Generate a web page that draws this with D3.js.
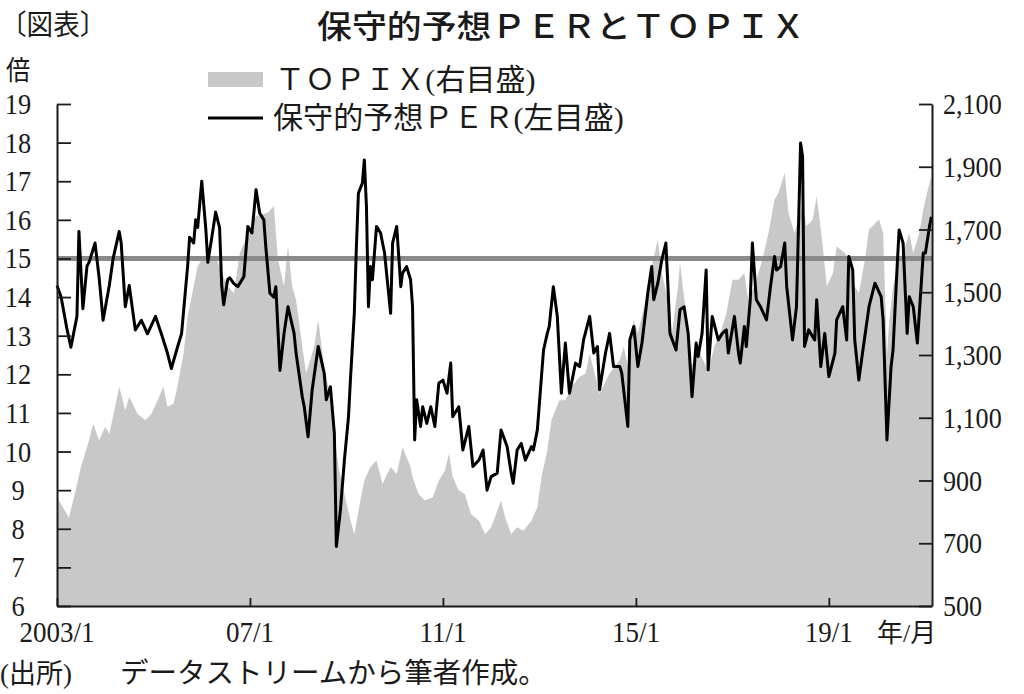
<!DOCTYPE html>
<html><head><meta charset="utf-8">
<script src="https://cdn.jsdelivr.net/npm/d3@7"></script>
<style>body{margin:0;background:#fff}svg{display:block}</style>
</head><body>
<svg id="chart" width="1024" height="694"></svg>
<script>
// ---- data ----
const perSeries = [["2003-01-01",14.3],["2003-02-01",14.0],["2003-03-16",13.2],["2003-04-16",12.7],["2003-06-01",13.5],["2003-06-16",15.7],["2003-07-16",13.7],["2003-08-16",14.8],["2003-09-01",14.9],["2003-10-16",15.4],["2003-11-16",14.5],["2003-12-16",13.4],["2004-02-01",14.3],["2004-03-01",15.0],["2004-04-16",15.7],["2004-05-01",15.4],["2004-06-01",13.75],["2004-07-01",14.3],["2004-08-16",13.15],["2004-10-01",13.4],["2004-11-16",13.05],["2005-01-16",13.5],["2005-03-01",13.05],["2005-04-16",12.55],["2005-05-16",12.15],["2005-07-01",12.7],["2005-08-01",13.05],["2005-09-16",14.8],["2005-10-01",15.55],["2005-11-01",15.4],["2005-11-16",16.0],["2005-12-01",15.8],["2006-01-01",17.0],["2006-02-01",15.75],["2006-02-16",14.9],["2006-03-16",15.5],["2006-04-16",16.2],["2006-05-16",15.8],["2006-06-01",14.3],["2006-06-16",13.8],["2006-07-16",14.45],["2006-08-01",14.5],["2006-09-01",14.35],["2006-10-01",14.27],["2006-11-16",14.53],["2006-12-16",15.83],["2007-01-16",15.66],["2007-02-16",16.78],["2007-03-16",16.17],["2007-04-16",16.0],["2007-05-01",15.3],["2007-06-01",14.1],["2007-07-01",14.0],["2007-07-16",14.27],["2007-08-16",12.1],["2007-09-16",13.06],["2007-10-16",13.75],["2007-12-01",13.06],["2007-12-16",12.55],["2008-02-01",11.42],["2008-02-16",11.16],["2008-03-16",10.38],["2008-04-16",11.6],["2008-06-01",12.72],["2008-07-16",12.03],["2008-08-01",11.34],["2008-09-01",11.68],["2008-10-01",10.47],["2008-10-16",7.54],["2008-11-16",8.49],["2008-12-16",9.78],["2009-01-16",10.9],["2009-02-01",11.94],["2009-03-01",13.58],["2009-03-16",15.22],["2009-04-01",16.69],["2009-05-01",16.95],["2009-05-16",17.55],["2009-06-01",16.34],["2009-06-16",13.75],["2009-07-01",14.79],["2009-07-16",14.45],["2009-08-16",15.83],["2009-09-16",15.66],["2009-10-16",15.14],["2009-12-01",13.58],["2009-12-16",15.4],["2010-01-16",15.83],["2010-02-16",14.27],["2010-03-01",14.62],["2010-04-01",14.79],["2010-05-01",14.45],["2010-05-16",13.75],["2010-06-01",10.3],["2010-06-16",11.34],["2010-07-16",10.65],["2010-08-01",11.16],["2010-09-01",10.73],["2010-10-01",11.16],["2010-11-01",10.65],["2010-12-01",11.77],["2011-01-01",11.85],["2011-02-01",11.51],["2011-03-01",12.29],["2011-03-16",10.9],["2011-05-01",11.16],["2011-06-01",10.04],["2011-07-16",10.65],["2011-08-16",9.61],["2011-10-01",9.78],["2011-11-01",10.04],["2011-12-01",9.0],["2012-01-01",9.35],["2012-02-16",9.44],["2012-03-16",10.56],["2012-05-01",10.13],["2012-06-01",9.44],["2012-06-16",9.18],["2012-07-16",10.04],["2012-08-16",10.21],["2012-09-16",9.78],["2012-11-01",10.13],["2012-11-16",10.04],["2012-12-16",10.56],["2013-01-16",11.94],["2013-02-01",12.63],["2013-03-01",13.06],["2013-03-16",13.24],["2013-04-16",14.27],["2013-05-16",13.5],["2013-06-16",11.51],["2013-07-16",12.81],["2013-08-16",11.51],["2013-10-01",12.29],["2013-11-01",12.2],["2013-12-01",12.89],["2014-01-16",13.5],["2014-02-16",12.55],["2014-03-16",12.72],["2014-04-01",11.6],["2014-05-16",12.55],["2014-06-16",13.06],["2014-07-16",12.2],["2014-09-01",12.2],["2014-09-16",12.03],["2014-11-01",10.65],["2014-11-16",12.89],["2014-12-16",13.24],["2015-01-16",12.2],["2015-02-16",12.81],["2015-04-01",14.1],["2015-05-01",14.79],["2015-05-16",13.93],["2015-06-16",14.36],["2015-07-16",14.96],["2015-08-16",15.4],["2015-09-01",14.27],["2015-09-16",13.06],["2015-11-01",12.63],["2015-12-01",13.67],["2016-01-01",13.75],["2016-02-01",13.06],["2016-03-01",11.42],["2016-04-01",12.81],["2016-04-16",12.46],["2016-05-16",13.06],["2016-06-16",14.7],["2016-07-01",12.11],["2016-08-01",13.5],["2016-09-16",12.89],["2016-10-16",13.06],["2016-11-16",13.15],["2016-12-01",12.55],["2017-01-16",13.5],["2017-02-16",12.55],["2017-03-01",12.29],["2017-04-01",13.24],["2017-04-16",12.72],["2017-05-16",13.93],["2017-06-01",15.4],["2017-07-01",13.93],["2017-08-01",13.75],["2017-09-16",13.41],["2017-10-16",14.27],["2017-11-16",15.05],["2017-12-01",14.7],["2018-01-01",14.79],["2018-02-01",15.4],["2018-02-16",14.27],["2018-04-01",12.89],["2018-05-01",13.75],["2018-06-01",17.99],["2018-06-16",17.64],["2018-07-01",12.72],["2018-08-01",13.15],["2018-09-16",12.89],["2018-10-01",13.93],["2018-11-01",12.2],["2018-12-01",13.06],["2019-01-01",11.94],["2019-02-16",12.55],["2019-03-01",13.41],["2019-04-16",13.75],["2019-05-16",12.89],["2019-06-01",15.05],["2019-07-01",14.7],["2019-07-16",12.89],["2019-08-16",11.85],["2019-09-16",12.63],["2019-11-01",13.75],["2019-12-16",14.36],["2020-02-01",14.01],["2020-02-16",13.41],["2020-03-16",10.3],["2020-04-16",12.2],["2020-05-01",12.63],["2020-06-01",14.79],["2020-06-16",15.74],["2020-07-16",15.4],["2020-08-16",13.06],["2020-09-01",14.01],["2020-10-01",13.75],["2020-11-01",12.81],["2020-12-16",15.14],["2021-01-01",15.14],["2021-02-01",15.83],["2021-02-16",16.08]];

const topixSeries = [["2003-01-01",847],["2003-03-01",804],["2003-04-01",782],["2003-05-16",857],["2003-07-01",943],["2003-09-01",1028],["2003-10-01",1081],["2003-11-16",1028],["2004-01-01",1071],["2004-02-01",1049],["2004-03-16",1135],["2004-04-16",1199],["2004-06-01",1124],["2004-07-01",1167],["2004-09-01",1113],["2004-11-01",1092],["2004-12-16",1113],["2005-02-01",1156],["2005-03-16",1199],["2005-04-16",1135],["2005-06-01",1145],["2005-07-01",1199],["2005-08-16",1305],["2005-09-16",1423],["2005-11-01",1519],["2005-12-01",1583],["2006-01-16",1615],["2006-02-16",1593],["2006-04-16",1615],["2006-06-01",1561],["2006-07-16",1519],["2006-09-01",1497],["2006-10-16",1625],["2006-12-01",1668],["2007-02-16",1743],["2007-05-16",1753],["2007-07-01",1775],["2007-08-01",1604],["2007-09-16",1519],["2007-10-16",1647],["2007-11-16",1519],["2007-12-16",1476],["2008-02-01",1327],["2008-03-01",1241],["2008-05-01",1327],["2008-06-01",1412],["2008-07-16",1263],["2008-08-16",1199],["2008-10-01",1049],["2008-11-01",943],["2008-12-16",857],["2009-02-01",772],["2009-03-01",729],["2009-04-16",836],["2009-05-16",900],["2009-07-01",943],["2009-08-16",964],["2009-10-01",889],["2009-12-01",943],["2010-01-16",921],["2010-03-01",1007],["2010-05-01",943],["2010-05-16",911],["2010-07-01",857],["2010-08-16",836],["2010-10-16",847],["2010-12-01",900],["2011-01-16",932],["2011-02-16",985],["2011-03-16",911],["2011-05-01",868],["2011-06-16",857],["2011-08-01",793],["2011-10-01",772],["2011-11-16",729],["2012-01-01",751],["2012-03-16",836],["2012-04-16",783],["2012-06-01",729],["2012-07-16",751],["2012-09-01",740],["2012-11-01",772],["2012-12-16",815],["2013-01-16",911],["2013-03-01",996],["2013-04-01",1092],["2013-06-01",1156],["2013-07-16",1156],["2013-09-01",1199],["2013-11-01",1231],["2013-12-16",1241],["2014-01-16",1305],["2014-04-01",1177],["2014-06-16",1241],["2014-09-01",1284],["2014-10-01",1327],["2014-11-01",1263],["2014-12-16",1412],["2015-01-16",1369],["2015-03-16",1476],["2015-05-01",1583],["2015-06-16",1668],["2015-07-16",1561],["2015-09-01",1476],["2015-10-01",1369],["2015-11-16",1519],["2015-12-01",1593],["2016-01-16",1433],["2016-02-16",1263],["2016-04-01",1284],["2016-05-01",1305],["2016-06-16",1263],["2016-07-01",1241],["2016-08-16",1327],["2016-10-01",1369],["2016-11-16",1433],["2017-01-01",1540],["2017-02-16",1540],["2017-04-01",1561],["2017-05-01",1476],["2017-06-16",1519],["2017-08-16",1604],["2017-10-01",1689],["2017-11-16",1796],["2017-12-16",1817],["2018-02-01",1881],["2018-03-01",1753],["2018-04-16",1689],["2018-05-01",1711],["2018-06-16",1775],["2018-07-16",1711],["2018-09-01",1732],["2018-10-01",1807],["2018-11-16",1647],["2018-12-16",1519],["2019-02-01",1561],["2019-03-01",1647],["2019-05-01",1625],["2019-06-01",1604],["2019-07-16",1519],["2019-08-16",1497],["2019-10-01",1604],["2019-11-01",1700],["2020-01-16",1732],["2020-02-16",1689],["2020-03-16",1300],["2020-04-01",1400],["2020-05-01",1519],["2020-06-16",1604],["2020-07-16",1625],["2020-09-01",1689],["2020-10-01",1625],["2020-11-16",1689],["2020-12-16",1764],["2021-02-01",1849],["2021-02-16",1871]];

const leftTicks = [6,7,8,9,10,11,12,13,14,15,16,17,18,19];
const rightTicks = [500,700,900,1100,1300,1500,1700,1900,2100];
const xTickDates = ["2003-01-01","2007-01-01","2011-01-01","2015-01-01","2019-01-01"];
const xTickLabels = ["2003/1","07/1","11/1","15/1","19/1"];
const benchmarkPER = 15;
const dateDomain = ["2003-01-01","2021-02-20"];
const titleText = "保守的予想ＰＥＲとＴＯＰＩＸ";
const legendLabels = ["ＴＯＰＩＸ(右目盛)", "保守的予想ＰＥＲ(左目盛)"];

// ---- drawing ----
const parse = d3.timeParse("%Y-%m-%d");
const per = perSeries.map(([d,v]) => ({date: parse(d), v}));
const topix = topixSeries.map(([d,v]) => ({date: parse(d), v}));

const L = 57, R = 932, T = 104, B = 606;
const svg = d3.select("#chart");
const x = d3.scaleTime().domain(dateDomain.map(parse)).range([L, R]);
const yL = d3.scaleLinear().domain([6, 19]).range([B, T]);
const yR = d3.scaleLinear().domain([500, 2100]).range([B, T]);

const ink = "#1a1a1a";
const numFont = "'Liberation Serif', 'Times New Roman', serif";
const jpFont = "'Liberation Serif', 'Noto Sans CJK JP', sans-serif";

function label(g, txt, px, py, size, sx, anchor, family, weight) {
  return g.append("text")
    .attr("transform", `translate(${px},${py}) scale(${sx},1)`)
    .attr("text-anchor", anchor || "start")
    .attr("font-family", family || numFont)
    .attr("font-size", size)
    .attr("font-weight", weight || "normal")
    .attr("fill", ink)
    .text(txt);
}

// TOPIX area
svg.append("path").datum(topix)
  .attr("fill", "#c8c8c8")
  .attr("d", d3.area().x(d => x(d.date)).y0(yR(500)).y1(d => yR(d.v)));

// 15x benchmark line
svg.append("line")
  .attr("x1", L).attr("x2", R)
  .attr("y1", yL(benchmarkPER)).attr("y2", yL(benchmarkPER))
  .attr("stroke", "#8a8a8a").attr("stroke-width", 5);

// PER line
svg.append("path").datum(per)
  .attr("fill", "none").attr("stroke", "#000").attr("stroke-width", 3)
  .attr("stroke-linejoin", "round")
  .attr("d", d3.line().x(d => x(d.date)).y(d => yL(d.v)));

// axes
const axL = svg.append("g").attr("transform", `translate(${L},0)`)
  .call(d3.axisLeft(yL).tickValues(leftTicks).tickSize(-14).tickSizeOuter(0).tickFormat(""));
const axR = svg.append("g").attr("transform", `translate(${R},0)`)
  .call(d3.axisRight(yR).tickValues(rightTicks).tickSize(-13).tickSizeOuter(0).tickFormat(""));
const axB = svg.append("g").attr("transform", `translate(0,${B})`)
  .call(d3.axisBottom(x).tickValues(xTickDates.map(parse)).tickSize(-8).tickSizeOuter(0).tickFormat(""));
[axL, axR, axB].forEach(a => {
  a.selectAll("path.domain").attr("stroke", ink).attr("stroke-width", 2);
  a.selectAll(".tick line").attr("stroke", ink).attr("stroke-width", 1.8);
});

// tick labels
const lab = svg.append("g");
leftTicks.forEach(t => label(lab, String(t), 18, yL(t) + 10, 30, 0.88, "middle"));
const fmt = d3.format(",");
rightTicks.forEach(t => label(lab, fmt(t), 943, yR(t) + 10, 30, 0.87, "start"));
xTickDates.forEach((d, i) => label(lab, xTickLabels[i], x(parse(d)), 642, 30, 0.9, "middle"));
label(lab, "年/月", 877, 642, 26, 1, "start", jpFont);
label(lab, "倍", 6, 80, 27, 0.9, "start", jpFont);

// title & header
label(svg, "〔図表〕", 0, 35, 28, 0.95, "start", "'Noto Sans CJK JP', sans-serif");
label(svg, titleText, 317, 38, 32, 1.09, "start", "'Noto Sans CJK JP', sans-serif", 500);

// legend
const lg = svg.append("g");
lg.append("rect").attr("x", 208).attr("y", 72).attr("width", 55).attr("height", 15).attr("fill", "#c8c8c8");
lg.append("line").attr("x1", 208).attr("x2", 263).attr("y1", 118).attr("y2", 118)
  .attr("stroke", "#000").attr("stroke-width", 3);
label(lg, legendLabels[0], 275, 90, 29.5, 1.02, "start", jpFont);
label(lg, legendLabels[1], 273, 128, 29.5, 1.02, "start", jpFont);

// source note
label(svg, "(出所)", 0, 683, 27, 1, "start", jpFont);
label(svg, "データストリームから筆者作成。", 120, 683, 28.5, 1, "start", "'Noto Sans CJK JP', sans-serif");
</script>
</body></html>
